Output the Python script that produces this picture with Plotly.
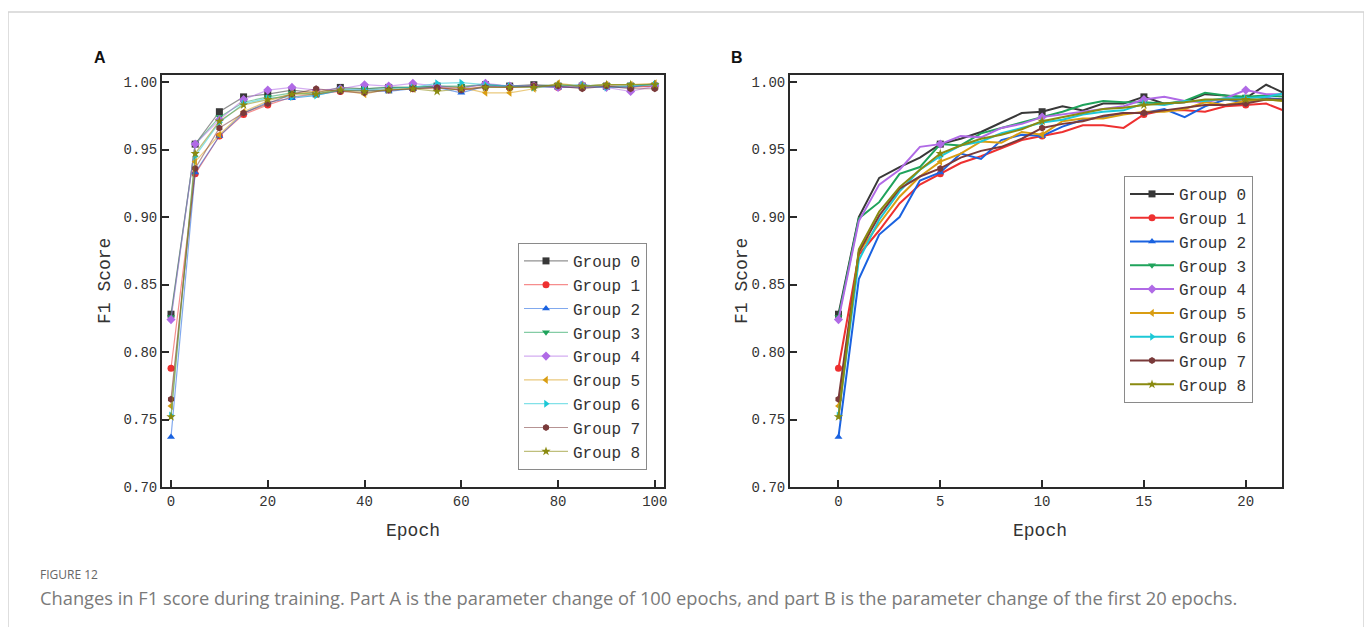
import plotly.graph_objects as go

OFF = 8
W, H = 1364, 619

groups = ["Group 0", "Group 1", "Group 2", "Group 3", "Group 4",
          "Group 5", "Group 6", "Group 7", "Group 8"]
colors = ["#383838", "#ee3030", "#1a62e0", "#1fa35b", "#b06ae6",
          "#d99d12", "#1cc8d6", "#7a3a3a", "#8a8a10"]
symbols = ["square", "circle", "triangle-up", "triangle-down", "diamond",
           "triangle-left", "triangle-right", "hexagon", "star"]

# ---- Panel A: every 5 epochs, 0..100
epochs_a = [0, 5, 10, 15, 20, 25, 30, 35, 40, 45, 50, 55, 60, 65, 70, 75, 80, 85, 90, 95, 100]
a_g0 = [.828, .954, .978, .989, .991, .994, .992, .996, .995, .996, .996, .997, .996, .998, .997, .998, .997, .997, .997, .997, .997]
a_g1 = [.788, .932, .960, .976, .983, .989, .991, .993, .994, .994, .995, .996, .994, .997, .996, .997, .996, .996, .997, .996, .997]
a_g2 = [.737, .933, .960, .977, .985, .988, .990, .994, .994, .993, .995, .996, .992, .997, .997, .997, .996, .996, .996, .996, .999]
a_g3 = [.826, .954, .974, .985, .989, .992, .991, .995, .995, .996, .996, .997, .997, .998, .997, .997, .998, .997, .998, .998, .998]
a_g4 = [.824, .954, .972, .987, .994, .996, .994, .995, .998, .997, .999, .997, .995, .999, .997, .997, .996, .998, .996, .993, .997]
a_g5 = [.760, .941, .961, .978, .986, .991, .993, .994, .991, .995, .995, .995, .996, .992, .992, .995, .999, .997, .998, .998, .999]
a_g6 = [.753, .945, .970, .984, .988, .989, .990, .994, .994, .995, .996, .999, .9995, .998, .997, .996, .997, .998, .996, .997, .998]
a_g7 = [.765, .936, .966, .977, .984, .991, .995, .993, .992, .994, .995, .996, .994, .996, .996, .997, .997, .995, .997, .995, .995]
a_g8 = [.752, .947, .971, .983, .987, .991, .991, .994, .993, .994, .995, .993, .995, .996, .996, .996, .998, .997, .998, .998, .998]
panel_a = [a_g0, a_g1, a_g2, a_g3, a_g4, a_g5, a_g6, a_g7, a_g8]

# ---- Panel B: every epoch, 0..22
epochs_b = list(range(23))
b_g0 = [.828, .900, .929, .937, .944, .954, .958, .963, .970, .977, .978, .982, .979, .984, .984, .989, .984, .985, .991, .990, .988, .998, .991]
b_g1 = [.788, .872, .890, .910, .924, .932, .940, .945, .951, .957, .960, .963, .968, .968, .966, .976, .979, .979, .978, .982, .983, .984, .978]
b_g2 = [.737, .854, .887, .900, .927, .933, .947, .943, .957, .961, .960, .967, .972, .974, .977, .977, .980, .974, .982, .987, .985, .988, .987]
b_g3 = [.826, .899, .911, .932, .937, .954, .953, .962, .966, .970, .974, .978, .983, .986, .985, .985, .984, .986, .992, .990, .989, .990, .989]
b_g4 = [.824, .897, .924, .935, .952, .954, .960, .959, .966, .969, .974, .976, .978, .980, .982, .987, .989, .986, .985, .988, .994, .991, .991]
b_g5 = [.760, .874, .895, .915, .930, .941, .947, .956, .955, .963, .961, .971, .973, .973, .976, .978, .978, .980, .985, .983, .986, .987, .986]
b_g6 = [.753, .868, .898, .919, .935, .945, .953, .956, .962, .966, .970, .972, .976, .978, .979, .984, .983, .986, .986, .988, .988, .989, .992]
b_g7 = [.765, .874, .901, .921, .930, .936, .944, .949, .952, .958, .966, .969, .971, .975, .977, .977, .979, .981, .983, .983, .984, .987, .987]
b_g8 = [.752, .876, .904, .922, .935, .947, .953, .958, .961, .965, .971, .974, .977, .980, .981, .983, .984, .985, .987, .987, .987, .987, .986]
panel_b = [b_g0, b_g1, b_g2, b_g3, b_g4, b_g5, b_g6, b_g7, b_g8]
marker_epochs_b = [0, 5, 10, 15, 20]

y_ticks = [0.70, 0.75, 0.80, 0.85, 0.90, 0.95, 1.00]
x_ticks_a = [0, 20, 40, 60, 80, 100]
x_ticks_b = [0, 5, 10, 15, 20]


def hex_rgba(h, a):
    h = h.lstrip("#")
    r, g, b = int(h[0:2], 16), int(h[2:4], 16), int(h[4:6], 16)
    return f"rgba({r},{g},{b},{a})"


def px(x):
    return (x - OFF) / W


def py(y):
    return 1 - (y - OFF) / H


FONT = "Liberation Mono"
fig = go.Figure()

for i, g in enumerate(groups):
    fig.add_trace(go.Scatter(
        x=epochs_a, y=panel_a[i], name=g, mode="lines+markers",
        xaxis="x", yaxis="y", legend="legend",
        line=dict(color=hex_rgba(colors[i], 0.55), width=1.2),
        marker=dict(symbol=symbols[i], color=colors[i], size=7, line=dict(width=0)),
        cliponaxis=False,
    ))

for i, g in enumerate(groups):
    fig.add_trace(go.Scatter(
        x=epochs_b, y=panel_b[i], mode="lines", showlegend=False,
        xaxis="x2", yaxis="y2",
        line=dict(color=colors[i], width=2),
    ))
    fig.add_trace(go.Scatter(
        x=marker_epochs_b, y=[panel_b[i][e] for e in marker_epochs_b],
        mode="markers", showlegend=False, xaxis="x2", yaxis="y2",
        marker=dict(symbol=symbols[i], color=colors[i], size=7, line=dict(width=0)),
    ))
    fig.add_trace(go.Scatter(
        x=[None], y=[None], name=g, mode="lines+markers",
        xaxis="x2", yaxis="y2", legend="legend2",
        line=dict(color=colors[i], width=2),
        marker=dict(symbol=symbols[i], color=colors[i], size=7, line=dict(width=0)),
    ))

axis_common = dict(
    showline=True, linecolor="#2a2a2a", linewidth=2, mirror=True,
    ticks="inside", ticklen=7, tickwidth=1.5, tickcolor="#2a2a2a",
    showgrid=False, zeroline=False, automargin=False,
    tickfont=dict(family=FONT, size=14, color="#333333"),
)

yA_top = 75
yA_bot = 487
legend_font = dict(family=FONT, size=16, color="#333333")
fig.update_layout(
    width=W, height=H, autosize=False,
    margin=dict(l=0, r=0, t=0, b=0),
    paper_bgcolor="white", plot_bgcolor="white",
    xaxis=dict(domain=[px(162), px(664)], range=[-1.86, 101.9],
               tickvals=x_ticks_a, anchor="y", **axis_common),
    yaxis=dict(domain=[py(yA_bot), py(yA_top)], range=[0.70, 1.0052],
               tickvals=y_ticks, tickformat=".2f", anchor="x", **axis_common),
    xaxis2=dict(domain=[px(790), px(1282)], range=[-2.38, 21.78],
                tickvals=x_ticks_b, anchor="y2", **axis_common),
    yaxis2=dict(domain=[py(yA_bot), py(yA_top)], range=[0.70, 1.0052],
                tickvals=y_ticks, tickformat=".2f", anchor="x2", **axis_common),
    legend=dict(x=px(647), y=py(470), xanchor="right", yanchor="bottom",
                bgcolor="white", bordercolor="#8a8a8a", borderwidth=1,
                font=legend_font, tracegroupgap=0, itemwidth=44),
    legend2=dict(x=px(1253), y=py(403), xanchor="right", yanchor="bottom",
                 bgcolor="white", bordercolor="#8a8a8a", borderwidth=1,
                 font=legend_font, tracegroupgap=0, itemwidth=44),
    showlegend=True,
)

annotations = [
    dict(text="<b>A</b>", x=px(100), y=py(57), font=dict(family="Liberation Sans", size=16, color="#111")),
    dict(text="<b>B</b>", x=px(737), y=py(57), font=dict(family="Liberation Sans", size=16, color="#111")),
    dict(text="F1 Score", x=px(105), y=py(281), textangle=-90,
         font=dict(family=FONT, size=18, color="#333333")),
    dict(text="F1 Score", x=px(742), y=py(281), textangle=-90,
         font=dict(family=FONT, size=18, color="#333333")),
    dict(text="Epoch", x=px(413), y=py(531), font=dict(family=FONT, size=18, color="#333333")),
    dict(text="Epoch", x=px(1040), y=py(531), font=dict(family=FONT, size=18, color="#333333")),
    dict(text="FIGURE 12", x=px(38), y=py(574), xanchor="left",
         font=dict(family="Open Sans", size=12, color="#666666")),
    dict(text="Changes in F1 score during training. Part A is the parameter change of 100 epochs, "
              "and part B is the parameter change of the first 20 epochs.",
         x=px(38), y=py(597), xanchor="left",
         font=dict(family="Open Sans", size=18.3, color="#7a7a7a")),
]
for a in annotations:
    a.setdefault("xanchor", "center")
    a.update(xref="paper", yref="paper", yanchor="middle", showarrow=False)
fig.update_layout(annotations=annotations)

fig.add_shape(type="rect", xref="paper", yref="paper",
              x0=px(8), x1=px(1364), y0=py(660), y1=py(12),
              line=dict(color="#d4d4d4", width=1.5), fillcolor="rgba(0,0,0,0)", layer="below")

fig.write_html("out.html")
